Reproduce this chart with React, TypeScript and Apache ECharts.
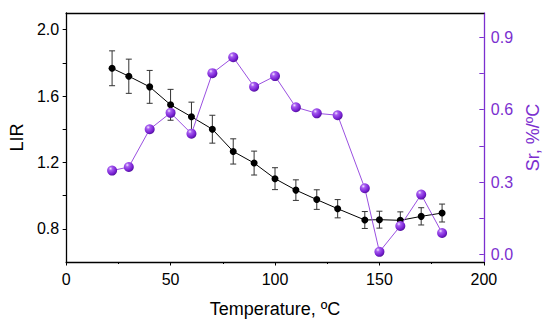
import React, { useEffect, useRef } from "react";
import * as echarts from "echarts";

const temperatures = [22, 30, 40, 50, 60, 70, 80, 90, 100, 110, 120, 130, 143, 150, 160, 170, 180];
const lirValues = [1.767, 1.719, 1.655, 1.547, 1.475, 1.4, 1.266, 1.196, 1.102, 1.033, 0.976, 0.921, 0.853, 0.855, 0.851, 0.875, 0.895];
const lirErrors = [0.105, 0.103, 0.099, 0.093, 0.088, 0.084, 0.076, 0.072, 0.066, 0.062, 0.059, 0.055, 0.051, 0.051, 0.051, 0.052, 0.054];
const srValues = [0.348, 0.363, 0.519, 0.587, 0.501, 0.751, 0.817, 0.695, 0.739, 0.61, 0.585, 0.577, 0.275, 0.012, 0.119, 0.249, 0.09];

const xTicks = [0, 50, 100, 150, 200];
const lirTicks = [0.8, 1.2, 1.6, 2.0];
const lirAllTicks = [0.8, 1.0, 1.2, 1.4, 1.6, 1.8, 2.0];
const srTicks = [0, 0.3, 0.6, 0.9];
const srAllTicks = [0, 0.15, 0.3, 0.45, 0.6, 0.75, 0.9];

const FONT = "'Liberation Sans', Arial, sans-serif";
const PURPLE = "#7B2FCF";

export default function App() {
  const ref = useRef<HTMLDivElement>(null);
  useEffect(() => {
    if (!ref.current) return;
    const chart = echarts.init(ref.current, undefined, { renderer: "svg" });
    const lirData = temperatures.map((t, i) => [t, lirValues[i]]);
    const errData = temperatures.map((t, i) => [t, lirValues[i], lirErrors[i]]);
    const srData = temperatures.map((t, i) => [t, srValues[i]]);
    chart.setOption({
      animation: false,
      grid: { left: 61, right: 61, top: 13, bottom: 63, containLabel: false },
      xAxis: [
        {
          type: "value",
          min: 0,
          max: 200,
          interval: 50,
          position: "bottom",
          name: "Temperature, ºC",
          nameLocation: "middle",
          nameGap: 38,
          nameTextStyle: { fontFamily: FONT, fontSize: 18, color: "#000" },
          axisLine: { show: true, onZero: false, lineStyle: { color: "#000", width: 1.3 } },
          axisTick: { show: true, inside: false, length: 3.5, lineStyle: { color: "#000", width: 1 } },
          minorTick: { show: true, splitNumber: 2, length: 2, lineStyle: { color: "#000", width: 1 } },
          axisLabel: {
            customValues: xTicks,
            margin: 9,
            fontFamily: FONT,
            fontSize: 16,
            color: "#000",
          },
          splitLine: { show: false },
        },
        {
          type: "value",
          min: 0,
          max: 200,
          position: "top",
          axisLine: { show: true, onZero: false, lineStyle: { color: "#000", width: 1.3 } },
          axisTick: { show: false },
          axisLabel: { show: false },
          splitLine: { show: false },
        },
      ],
      yAxis: [
        {
          type: "value",
          min: 0.6,
          max: 2.1,
          position: "left",
          name: "LIR",
          nameLocation: "middle",
          nameRotate: 90,
          nameGap: 34,
          nameTextStyle: { fontFamily: FONT, fontSize: 18, color: "#000" },
          axisLine: { show: true, onZero: false, lineStyle: { color: "#000", width: 1.3 } },
          axisTick: { show: true, customValues: lirAllTicks, inside: false, length: 3.5, lineStyle: { color: "#000", width: 1 } },
          axisLabel: {
            customValues: lirTicks,
            formatter: (v: number) => v.toFixed(1),
            margin: 7,
            fontFamily: FONT,
            fontSize: 16,
            color: "#000",
          },
          splitLine: { show: false },
        },
        {
          type: "value",
          min: -0.03,
          max: 1.0,
          position: "right",
          name: "Sr, %/ºC",
          nameLocation: "middle",
          nameRotate: 90,
          nameGap: 34,
          nameTextStyle: { fontFamily: FONT, fontSize: 18, color: PURPLE },
          axisLine: { show: true, onZero: false, lineStyle: { color: PURPLE, width: 1.3 } },
          axisTick: { show: true, customValues: srAllTicks, inside: true, length: 4.5, lineStyle: { color: PURPLE, width: 1 } },
          axisLabel: {
            customValues: srTicks,
            formatter: (v: number) => v.toFixed(1),
            margin: 7,
            fontFamily: FONT,
            fontSize: 16,
            color: PURPLE,
          },
          splitLine: { show: false },
        },
      ],
      series: [
        {
          type: "custom",
          xAxisIndex: 0,
          yAxisIndex: 0,
          z: 2,
          data: errData,
          encode: { x: 0, y: 1 },
          renderItem: (params: any, api: any) => {
            const x = api.value(0);
            const y = api.value(1);
            const e = api.value(2);
            const top = api.coord([x, y + e]);
            const bot = api.coord([x, y - e]);
            const hw = 3;
            const style = { stroke: "#333", lineWidth: 1 };
            return {
              type: "group",
              children: [
                { type: "line", shape: { x1: top[0], y1: top[1], x2: bot[0], y2: bot[1] }, style },
                { type: "line", shape: { x1: top[0] - hw, y1: top[1], x2: top[0] + hw, y2: top[1] }, style },
                { type: "line", shape: { x1: bot[0] - hw, y1: bot[1], x2: bot[0] + hw, y2: bot[1] }, style },
              ],
            };
          },
        },
        {
          type: "line",
          xAxisIndex: 0,
          yAxisIndex: 0,
          z: 3,
          data: lirData,
          symbol: "circle",
          symbolSize: 7,
          itemStyle: { color: "#000" },
          lineStyle: { color: "#000", width: 1 },
        },
        {
          type: "line",
          xAxisIndex: 0,
          yAxisIndex: 1,
          z: 4,
          data: srData,
          symbol: "circle",
          symbolSize: 10,
          itemStyle: {
            color: new echarts.graphic.RadialGradient(0.35, 0.3, 0.75, [
              { offset: 0, color: "#f3e6ff" },
              { offset: 0.25, color: "#a65cf0" },
              { offset: 0.7, color: "#7a22d4" },
              { offset: 1, color: "#4c0e96" },
            ]),
            borderWidth: 0,
          },
          lineStyle: { color: "#9a50e0", width: 1 },
        },
      ],
    });
    return () => chart.dispose();
  }, []);
  return (
    <div
      ref={ref}
      style={{ position: "absolute", left: 0, top: 0, width: 550, height: 325 }}
    />
  );
}
